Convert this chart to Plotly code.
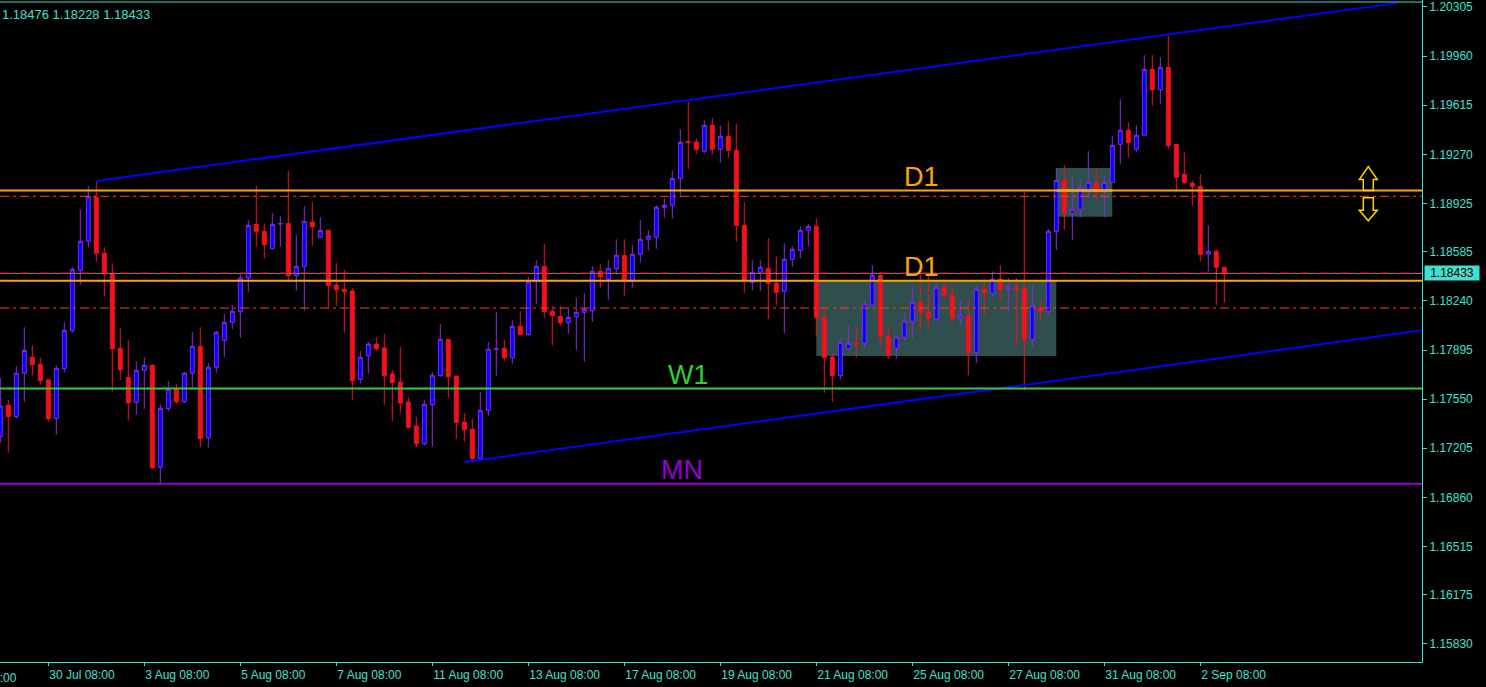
import plotly.graph_objects as go

# ---------------- data (EURUSD H4) ----------------
opens = [1.17286, 1.17507, 1.17427, 1.17732, 1.17844, 1.17795, 1.17685, 1.17415, 1.17764, 1.18031,
         1.18455, 1.18659, 1.18968, 1.18575, 1.18431, 1.17907, 1.17704, 1.17528, 1.17753, 1.17788,
         1.17071, 1.17483, 1.17626, 1.17532, 1.17732, 1.17921, 1.17279, 1.17774, 1.17963, 1.18090,
         1.18167, 1.18401, 1.18778, 1.18729, 1.18607, 1.18780, 1.18785, 1.18417, 1.18480, 1.18794,
         1.18687, 1.18736, 1.18352, 1.18322, 1.18310, 1.17689, 1.17855, 1.17937, 1.17909, 1.17727,
         1.17670, 1.17530, 1.17361, 1.17237, 1.17511, 1.17715, 1.17970, 1.17713, 1.17389, 1.17338,
         1.17132, 1.17472, 1.17900, 1.17907, 1.17841, 1.18062, 1.18003, 1.18375, 1.18483, 1.18167,
         1.18132, 1.18087, 1.18129, 1.18160, 1.18171, 1.18448, 1.18392, 1.18466, 1.18561, 1.18378,
         1.18568, 1.18673, 1.18687, 1.18898, 1.18912, 1.19101, 1.19359, 1.19356, 1.19291, 1.19474,
         1.19305, 1.19397, 1.19298, 1.18771, 1.18371, 1.18441, 1.18469, 1.18364, 1.18308, 1.18532,
         1.18596, 1.18736, 1.18764, 1.18125, 1.17846, 1.17715, 1.17904, 1.17942, 1.17942, 1.18211,
         1.18420, 1.17994, 1.17907, 1.17985, 1.18097, 1.18230, 1.18160, 1.18111, 1.18336, 1.18280,
         1.18118, 1.18139, 1.17876, 1.18322, 1.18294, 1.18392, 1.18322, 1.18336, 1.18331, 1.17970,
         1.18188, 1.18167, 1.18729, 1.19087, 1.18856, 1.18884, 1.19007, 1.19073, 1.19003, 1.19073,
         1.19340, 1.19439, 1.19305, 1.19404, 1.19867, 1.19724, 1.19881, 1.19340, 1.19130, 1.19066,
         1.19045, 1.18568, 1.18589, 1.18476]
highs = [1.17699, 1.17544, 1.17783, 1.18055, 1.17928, 1.17844, 1.17689, 1.17788, 1.18090, 1.18476,
         1.18884, 1.19047, 1.19078, 1.18617, 1.18504, 1.18048, 1.17963, 1.17816, 1.17844, 1.17797,
         1.17514, 1.17678, 1.17654, 1.17743, 1.18020, 1.18055, 1.17804, 1.18029, 1.18148, 1.18211,
         1.18434, 1.18809, 1.19047, 1.18785, 1.18858, 1.18837, 1.19153, 1.18703, 1.18907, 1.18935,
         1.18828, 1.18736, 1.18506, 1.18457, 1.18329, 1.17888, 1.17951, 1.17982, 1.18010, 1.17755,
         1.17916, 1.17565, 1.17425, 1.17544, 1.17741, 1.18078, 1.17970, 1.17713, 1.17453, 1.17411,
         1.17600, 1.17951, 1.18162, 1.17966, 1.18106, 1.18169, 1.18408, 1.18528, 1.18640, 1.18204,
         1.18204, 1.18183, 1.18263, 1.18294, 1.18485, 1.18499, 1.18528, 1.18673, 1.18673, 1.18631,
         1.18809, 1.18738, 1.18912, 1.18963, 1.19153, 1.19446, 1.19637, 1.19382, 1.19509, 1.19525,
         1.19474, 1.19502, 1.19485, 1.18933, 1.18525, 1.18525, 1.18680, 1.18553, 1.18645, 1.18624,
         1.18764, 1.18778, 1.18820, 1.18199, 1.17872, 1.17985, 1.18066, 1.18066, 1.18244, 1.18490,
         1.18443, 1.18050, 1.17999, 1.18150, 1.18343, 1.18427, 1.18427, 1.18371, 1.18385, 1.18343,
         1.18244, 1.18251, 1.18350, 1.18392, 1.18448, 1.18490, 1.18399, 1.18399, 1.19010, 1.18347,
         1.18247, 1.18745, 1.19169, 1.19195, 1.19109, 1.19094, 1.19293, 1.19165, 1.19116, 1.19397,
         1.19656, 1.19495, 1.19474, 1.19966, 1.19966, 1.19952, 1.20101, 1.19340, 1.19284, 1.19087,
         1.19130, 1.18771, 1.18603, 1.18476]
lows = [1.17242, 1.17174, 1.17413, 1.17532, 1.17718, 1.17652, 1.17392, 1.17300, 1.17739, 1.18017,
        1.18354, 1.18614, 1.18516, 1.18270, 1.17602, 1.17685, 1.17399, 1.17441, 1.17483, 1.17057,
        1.16959, 1.17462, 1.17516, 1.17525, 1.17626, 1.17214, 1.17210, 1.17736, 1.17848, 1.18043,
        1.17982, 1.18305, 1.18621, 1.18537, 1.18607, 1.18621, 1.18373, 1.18312, 1.18171, 1.18628,
        1.18687, 1.18188, 1.18207, 1.18017, 1.17546, 1.17659, 1.17729, 1.17888, 1.17509, 1.17397,
        1.17453, 1.17347, 1.17214, 1.17223, 1.17216, 1.17708, 1.17560, 1.17272, 1.17251, 1.17106,
        1.17127, 1.17434, 1.17715, 1.17818, 1.17799, 1.18003, 1.17996, 1.18221, 1.18122, 1.17926,
        1.18066, 1.18010, 1.17897, 1.17813, 1.18094, 1.18333, 1.18249, 1.18427, 1.18277, 1.18333,
        1.18509, 1.18593, 1.18607, 1.18825, 1.18818, 1.18968, 1.19167, 1.19274, 1.19277, 1.19267,
        1.19209, 1.19246, 1.18656, 1.18296, 1.18315, 1.18308, 1.18115, 1.18209, 1.18013, 1.18478,
        1.18539, 1.18624, 1.17989, 1.17595, 1.17532, 1.17687, 1.17904, 1.17841, 1.17902, 1.18211,
        1.17904, 1.17832, 1.17832, 1.17963, 1.17977, 1.18029, 1.18043, 1.18111, 1.18266, 1.18097,
        1.18069, 1.17718, 1.17806, 1.18139, 1.18266, 1.18237, 1.18153, 1.17928, 1.17614, 1.17918,
        1.18099, 1.18146, 1.18598, 1.18740, 1.18670, 1.18828, 1.18965, 1.18954, 1.18828, 1.19073,
        1.19204, 1.19249, 1.19288, 1.19404, 1.19612, 1.19626, 1.19309, 1.19007, 1.19057, 1.18909,
        1.18518, 1.18448, 1.18211, 1.18228]
closes = [1.17502, 1.17427, 1.17732, 1.17893, 1.17792, 1.17680, 1.17413, 1.17767, 1.18034, 1.18462,
          1.18659, 1.18975, 1.18575, 1.18431, 1.17904, 1.17757, 1.17525, 1.17753, 1.17788, 1.17068,
          1.17486, 1.17619, 1.17532, 1.17732, 1.17921, 1.17272, 1.17774, 1.18020, 1.18090, 1.18167,
          1.18401, 1.18771, 1.18729, 1.18635, 1.18778, 1.18784, 1.18417, 1.18483, 1.18799, 1.18761,
          1.18736, 1.18347, 1.18319, 1.18305, 1.17680, 1.17844, 1.17937, 1.17904, 1.17715, 1.17666,
          1.17523, 1.17352, 1.17237, 1.17514, 1.17718, 1.17970, 1.17708, 1.17385, 1.17335, 1.17132,
          1.17472, 1.17900, 1.17904, 1.17841, 1.18062, 1.18003, 1.18375, 1.18483, 1.18164, 1.18136,
          1.18087, 1.18125, 1.18160, 1.18181, 1.18448, 1.18410, 1.18469, 1.18561, 1.18378, 1.18568,
          1.18673, 1.18696, 1.18898, 1.18912, 1.19101, 1.19354, 1.19352, 1.19305, 1.19474, 1.19305,
          1.19397, 1.19298, 1.18771, 1.18385, 1.18441, 1.18476, 1.18364, 1.18301, 1.18532, 1.18603,
          1.18736, 1.18764, 1.18124, 1.17841, 1.17715, 1.17949, 1.17942, 1.17935, 1.18218, 1.18420,
          1.17989, 1.17860, 1.17985, 1.18097, 1.18230, 1.18160, 1.18118, 1.18336, 1.18280, 1.18118,
          1.18139, 1.17876, 1.18322, 1.18294, 1.18392, 1.18322, 1.18336, 1.18322, 1.17970, 1.18207,
          1.18167, 1.18729, 1.19087, 1.18856, 1.18884, 1.19038, 1.19073, 1.19003, 1.19073, 1.19333,
          1.19439, 1.19352, 1.19404, 1.19867, 1.19724, 1.19881, 1.19331, 1.19109, 1.19071, 1.19045,
          1.18568, 1.18589, 1.18476, 1.18433]
bar_index = list(range(len(opens)))

time_tick_index = [6, 18, 30, 42, 54, 66, 78, 90, 102, 114, 126, 138, 150]
time_tick_labels = ["30 Jul 08:00", "3 Aug 08:00", "5 Aug 08:00", "7 Aug 08:00", "11 Aug 08:00",
                    "13 Aug 08:00", "17 Aug 08:00", "19 Aug 08:00", "21 Aug 08:00", "25 Aug 08:00",
                    "27 Aug 08:00", "31 Aug 08:00", "2 Sep 08:00"]
first_time_label = "28 Jul 08:00"
price_ticks = [1.20305, 1.19960, 1.19615, 1.19270, 1.18925, 1.18585, 1.18240, 1.17895,
               1.17550, 1.17205, 1.16860, 1.16515, 1.16175, 1.15830]
header_text = "1.18476 1.18228 1.18433"

# chart objects
d1_levels = [1.19015, 1.18382]
red_levels = [1.18975, 1.18190]
bid_red_level = 1.18436
w1_level = 1.17624
mn_level = 1.16956
bid_price = closes[-1]
upper_trend_index = [12, 174.6]
upper_trend_price = [1.19083, 1.20332]
lower_trend_index = [58, 155]
lower_trend_price = [1.17108, 1.17858]
box_start = [102, 132]
box_end = [132, 139]
box_top = [1.18382, 1.19174]
box_bottom = [1.17853, 1.18832]
label_texts = ["D1", "D1", "W1", "MN"]
label_index = [112.7, 112.7, 83.2, 82.3]
label_levels = [d1_levels[0], d1_levels[1], w1_level, mn_level]
arrow_index = 171

# ---------------- styling ----------------
BG = "#000000"
FG = "#40E0D0"
BULL_LINE = "#8A2BE2"
BULL_FILL = "#0000FF"
BEAR = "#F5101E"
ORANGE = "#FFA500"
GREEN = "#32CD32"
PURPLE = "#9400D3"
ORED = "#FF4500"
RED = "#FF0000"
BLUE = "#0000FF"
BOX = "#2F4F4F"
ARROW = "#FFD000"
FONT = "Liberation Sans"

# block-arrow symbols (pixel units, relative to their anchor)
UP_ARROW_PATH = "M -5,0 L 5,0 L 5,11 L 9,11 L 0,24 L -9,11 L -5,11 Z"
DOWN_ARROW_PATH = "M -5,-1.5 L 5,-1.5 L 5,-14 L 9,-14 L 0,-24.5 L -9,-14 L -5,-14 Z"

fig = go.Figure()
fig.add_trace(go.Candlestick(
    x=bar_index, open=opens, high=highs, low=lows, close=closes,
    increasing=dict(line=dict(color=BULL_LINE, width=1), fillcolor=BULL_FILL),
    decreasing=dict(line=dict(color=BEAR, width=1), fillcolor=BEAR),
    whiskerwidth=0, showlegend=False, hoverinfo="skip"))

shapes = []
for x0, x1, y0, y1 in zip(box_start, box_end, box_bottom, box_top):
    shapes.append(dict(type="rect", xref="x", yref="y", x0=x0, x1=x1, y0=y0, y1=y1,
                       fillcolor=BOX, line=dict(width=0), layer="below"))

# pale segment where D1 line crosses the upper box
shapes.append(dict(type="line", xref="x", yref="y", x0=box_start[1], x1=box_end[1],
                   y0=d1_levels[0], y1=d1_levels[0], line=dict(color="#E4E89A", width=2)))

# trend lines
shapes.append(dict(type="line", xref="x", yref="y", x0=upper_trend_index[0], x1=upper_trend_index[1],
                   y0=upper_trend_price[0], y1=upper_trend_price[1], line=dict(color=BLUE, width=2)))
slope = (lower_trend_price[1] - lower_trend_price[0]) / (lower_trend_index[1] - lower_trend_index[0])
ray_end = 200
shapes.append(dict(type="line", xref="x", yref="y", x0=lower_trend_index[0], x1=ray_end,
                   y0=lower_trend_price[0], y1=lower_trend_price[0] + slope * (ray_end - lower_trend_index[0]),
                   line=dict(color=BLUE, width=2)))

# bid line
shapes.append(dict(type="line", xref="paper", yref="y", x0=0, x1=1, y0=bid_price, y1=bid_price,
                   line=dict(color="#778899", width=1)))
shapes.append(dict(type="line", xref="paper", yref="y", x0=0, x1=1, y0=bid_red_level, y1=bid_red_level,
                   line=dict(color=RED, width=1, dash="9px,4px,3px,4px")))
for p in red_levels:
    shapes.append(dict(type="line", xref="paper", yref="y", x0=0, x1=1, y0=p, y1=p,
                       line=dict(color=ORED, width=1, dash="9px,4px,3px,4px")))
for p in d1_levels:
    shapes.append(dict(type="line", xref="paper", yref="y", x0=0, x1=1, y0=p, y1=p,
                       line=dict(color=ORANGE, width=2)))
shapes.append(dict(type="line", xref="paper", yref="y", x0=0, x1=1, y0=w1_level, y1=w1_level,
                   line=dict(color=GREEN, width=2)))
shapes.append(dict(type="line", xref="paper", yref="y", x0=0, x1=1, y0=mn_level, y1=mn_level,
                   line=dict(color=PURPLE, width=2)))
# top border
shapes.append(dict(type="line", xref="paper", yref="paper", x0=0, x1=1, y0=1 - 2 / 662, y1=1 - 2 / 662,
                   line=dict(color=FG, width=1)))

# up / down arrow objects anchored on the D1 and red levels
shapes.append(dict(type="path", xref="x", yref="y", xsizemode="pixel", ysizemode="pixel",
                   xanchor=arrow_index, yanchor=d1_levels[0], path=UP_ARROW_PATH,
                   line=dict(color=ARROW, width=1.5), fillcolor="rgba(0,0,0,0)"))
shapes.append(dict(type="path", xref="x", yref="y", xsizemode="pixel", ysizemode="pixel",
                   xanchor=arrow_index, yanchor=red_levels[0], path=DOWN_ARROW_PATH,
                   line=dict(color=ARROW, width=1.5), fillcolor="rgba(0,0,0,0)"))

label_colors = [ORANGE, ORANGE, GREEN, PURPLE]
annotations = []
for t, xi, lv, col in zip(label_texts, label_index, label_levels, label_colors):
    annotations.append(dict(text=t, x=xi, y=lv, xref="x", yref="y", xanchor="left", yanchor="bottom",
                            showarrow=False, yshift=-3, font=dict(family=FONT, size=27, color=col)))

annotations.append(dict(text=header_text, x=0, y=1, xref="paper", yref="paper", xanchor="left",
                        yanchor="top", xshift=0, yshift=-5, showarrow=False,
                        font=dict(family=FONT, size=13, color=FG)))
annotations.append(dict(text=first_time_label, x=0, y=0, xref="paper", yref="paper", xanchor="right",
                        yanchor="top", xshift=19, yshift=-7, showarrow=False,
                        font=dict(family=FONT, size=12, color=FG)))
annotations.append(dict(text=f"{bid_price:.5f}", x=1, y=bid_price, xref="paper", yref="y",
                        xanchor="left", yanchor="middle", xshift=2, showarrow=False,
                        bgcolor=FG, width=54, height=14, borderpad=0,
                        font=dict(family=FONT, size=12, color="#000000")))

fig.update_layout(
    width=1486, height=687,
    margin=dict(l=0, r=64, t=0, b=25),
    paper_bgcolor=BG, plot_bgcolor=BG,
    shapes=shapes, annotations=annotations,
    showlegend=False,
    boxgap=0.3, boxgroupgap=0.3,
    xaxis=dict(range=[-0.0375, 177.7125], showgrid=False, zeroline=False,
               tickmode="array", tickvals=time_tick_index, ticktext=time_tick_labels,
               ticks="outside", ticklen=3, tickcolor=FG, tickwidth=1,
               showline=True, linecolor=FG, linewidth=1,
               ticklabelposition="outside right", ticklabelstandoff=2,
               tickfont=dict(family=FONT, size=12, color=FG),
               rangeslider=dict(visible=False), fixedrange=True),
    yaxis=dict(range=[1.157034, 1.20354], side="right", showgrid=False, zeroline=False,
               tickmode="array", tickvals=price_ticks, ticktext=[f"{v:.5f}" for v in price_ticks],
               ticks="outside", ticklen=4, tickcolor=FG, tickwidth=1,
               showline=True, linecolor=FG, linewidth=1,
               tickfont=dict(family=FONT, size=12, color=FG), fixedrange=True),
)

fig.write_html("out.html", config={"displayModeBar": False},
               post_script="document.body.style.margin='0';")
